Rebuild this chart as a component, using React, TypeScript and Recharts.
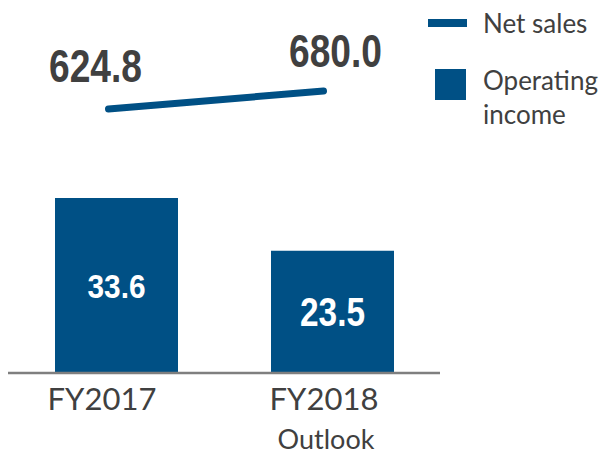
import React from "react";
import { ComposedChart, Bar, Line, XAxis, YAxis, Legend, LabelList } from "recharts";

const categories = ["FY2017", "FY2018"];
const subLabels = ["", "Outlook"];
const netSales = [624.8, 680.0];
const operatingIncome = [33.6, 23.5];

const BLUE = "#005085";
const GREY_TEXT = "#404040";

const data = categories.map((name, i) => ({
  name,
  netSales: netSales[i],
  operatingIncome: operatingIncome[i],
}));

// small per-item nudges so text sits where the slide had it
const tickDx = [-14, -8];
const lineLabelDx = [-13, 12];
const lineLabelDy = [-27, -24];
const barLabelSize = [34, 40];
const barLabelWidth = [58, 65];

function XTick(props: any) {
  const { x, y, payload } = props;
  const i = categories.indexOf(payload.value);
  const cx = x + (tickDx[i] ?? 0);
  return (
    <g>
      <text x={cx} y={y + 29} textAnchor="middle" fontFamily="Lato" fontSize={31} fill={GREY_TEXT}>
        {payload.value}
      </text>
      {subLabels[i] ? (
        <text x={cx + 2} y={y + 68} textAnchor="middle" fontFamily="Lato" fontSize={27} fill={GREY_TEXT}>
          {subLabels[i]}
        </text>
      ) : null}
    </g>
  );
}

function LineValue(props: any) {
  const { x, y, value, index } = props;
  return (
    <text
      x={x + lineLabelDx[index]}
      y={y + lineLabelDy[index]}
      textAnchor="middle"
      fontFamily="Liberation Sans"
      fontWeight={700}
      fontSize={46}
      fill={GREY_TEXT}
      textLength={93}
      lengthAdjust="spacingAndGlyphs"
    >
      {Number(value).toFixed(1)}
    </text>
  );
}

function BarValue(props: any) {
  const { x, y, width, height, value, index } = props;
  const fs = barLabelSize[index];
  return (
    <text
      x={x + width / 2}
      y={y + height / 2 + fs * 0.358}
      textAnchor="middle"
      fontFamily="Liberation Sans"
      fontWeight={700}
      fontSize={fs}
      fill="#ffffff"
      textLength={barLabelWidth[index]}
      lengthAdjust="spacingAndGlyphs"
    >
      {Number(value).toFixed(1)}
    </text>
  );
}

function LegendBox(props: any) {
  const items = [...(props.payload || [])].sort((a: any, b: any) =>
    a.type === "line" ? -1 : b.type === "line" ? 1 : 0
  );
  return (
    <svg width={185} height={130}>
      {items.map((item: any, i: number) => {
        const isLine = item.type === "line";
        const words = String(item.value);
        const lines = words.length > 12 ? [words.slice(0, words.indexOf(" ")), words.slice(words.indexOf(" ") + 1)] : [words];
        const top = isLine ? 33 : 90;
        return (
          <g key={i}>
            {isLine ? (
              <rect x={8} y={19} width={39} height={8} fill={BLUE} />
            ) : (
              <rect x={15} y={69} width={31} height={31} fill={BLUE} />
            )}
            {lines.map((t, j) => (
              <text key={j} x={63} y={top + j * 34} fontFamily="Lato" fontSize={26} fill={GREY_TEXT}>
                {t}
              </text>
            ))}
          </g>
        );
      })}
    </svg>
  );
}

export default function App() {
  return (
    <div style={{ position: "absolute", left: 0, top: 0, background: "#fff" }}>
      <ComposedChart width={605} height={455} data={data} margin={{ top: 20, right: 165, bottom: 22, left: 8 }}>
        <XAxis
          dataKey="name"
          height={60}
          tickLine={false}
          axisLine={{ stroke: "#7f7f7f", strokeWidth: 2.5 }}
          tick={<XTick />}
          interval={0}
        />
        <XAxis xAxisId="line" dataKey="name" hide padding={{ left: -7, right: 9 }} />
        <YAxis yAxisId="bar" hide domain={[0, 67.8]} />
        <YAxis yAxisId="line" orientation="right" hide domain={[-184.8, 897.7]} />
        <Legend
          layout="horizontal"
          verticalAlign="middle"
          align="center"
          wrapperStyle={{ left: 420, top: 0, width: 185, height: 130 }}
          content={<LegendBox />}
        />
        <Bar
          yAxisId="bar"
          dataKey="operatingIncome"
          name="Operating income"
          fill={BLUE}
          barSize={123}
          isAnimationActive={false}
        >
          <LabelList dataKey="operatingIncome" content={<BarValue />} />
        </Bar>
        <Line
          xAxisId="line"
          yAxisId="line"
          dataKey="netSales"
          name="Net sales"
          stroke={BLUE}
          strokeWidth={7}
          strokeLinecap="round"
          dot={false}
          isAnimationActive={false}
        >
          <LabelList dataKey="netSales" content={<LineValue />} />
        </Line>
      </ComposedChart>
    </div>
  );
}
